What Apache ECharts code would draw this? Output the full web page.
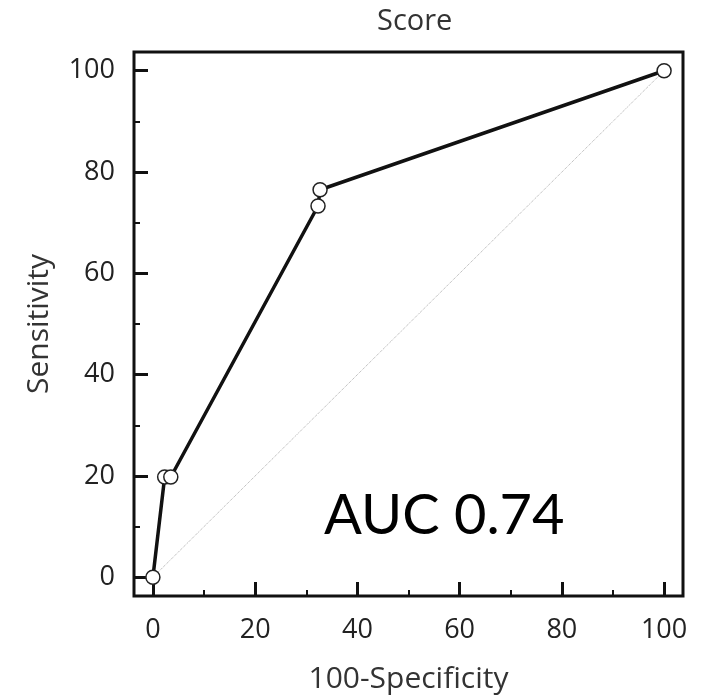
<!DOCTYPE html>
<html style="height: 100%">
<head>
    <meta charset="utf-8">
    <script type="text/javascript" src="https://cdn.jsdelivr.net/npm/echarts@6.0.0/dist/echarts.min.js"></script>
</head>
<body style="height: 100%; margin: 0; background: #fff">
<div id="container" style="height: 699px; width: 706px"></div>
<script type="text/javascript">
    // ROC curve points (100-Specificity, Sensitivity)
    var rocX = [0, 2.3, 3.5, 32.3, 32.7, 100];
    var rocY = [0, 19.8, 19.8, 73.3, 76.5, 100];
    var diagonal = [[0, 0], [100, 100]];
    var majorTicks = [0, 20, 40, 60, 80, 100];
    var minorTicks = [10, 30, 50, 70, 90];
    var aucText = 'AUC 0.74';

    var font = '"Open Sans", sans-serif';
    var axisMin = -3.7, axisMax = 103.7;

    function mainAxis(pos, name, gap, rotate, margin) {
        return {
            type: 'value',
            position: pos,
            min: axisMin,
            max: axisMax,
            name: name,
            nameLocation: 'middle',
            nameGap: gap,
            nameRotate: rotate,
            nameTextStyle: {fontFamily: font, fontSize: 30, color: '#333'},
            axisLine: {show: false, onZero: false},
            splitLine: {show: false},
            axisTick: {
                show: true, inside: true, length: 14,
                customValues: majorTicks,
                lineStyle: {color: '#111', width: 3}
            },
            axisLabel: {
                show: true, customValues: majorTicks,
                fontFamily: font, fontSize: 27, color: '#222', margin: margin
            }
        };
    }
    // second axis on the same side, only for the short minor ticks
    function minorAxis(pos) {
        return {
            type: 'value',
            position: pos,
            offset: 0,
            min: axisMin,
            max: axisMax,
            axisLine: {show: false, onZero: false},
            splitLine: {show: false},
            axisLabel: {show: false},
            axisTick: {
                show: true, inside: true, length: 6,
                customValues: minorTicks,
                lineStyle: {color: '#111', width: 2}
            }
        };
    }

    var myChart = echarts.init(document.getElementById('container'));
    myChart.setOption({
        animation: false,
        title: {
            text: 'Score',
            left: 372,
            top: 2,
            textStyle: {fontFamily: font, fontSize: 29, fontWeight: 'normal', color: '#333'}
        },
        grid: {
            left: 134, right: 23, top: 52, bottom: 102,
            show: true, borderColor: '#111', borderWidth: 3
        },
        xAxis: [mainAxis('bottom', '100-Specificity', 68, 0, 21), minorAxis('bottom')],
        yAxis: [mainAxis('left', 'Sensitivity', 80, 90, 19), minorAxis('left')],
        graphic: [{
            type: 'text',
            left: 324,
            top: 488,
            style: {
                text: aucText,
                font: '56px Lato, "Open Sans", sans-serif',
                fill: '#000'
            }
        }],
        series: [
            {
                type: 'line',
                data: diagonal,
                symbol: 'none',
                lineStyle: {color: '#aaa', width: 1, type: 'dotted'},
                silent: true
            },
            {
                type: 'line',
                data: rocX.map(function (x, i) { return [x, rocY[i]]; }),
                symbol: 'circle',
                symbolSize: 14,
                showAllSymbol: true,
                lineStyle: {color: '#111', width: 3.5},
                itemStyle: {color: '#fff', borderColor: '#222', borderWidth: 1.5}
            }
        ]
    });
</script>
</body>
</html>
